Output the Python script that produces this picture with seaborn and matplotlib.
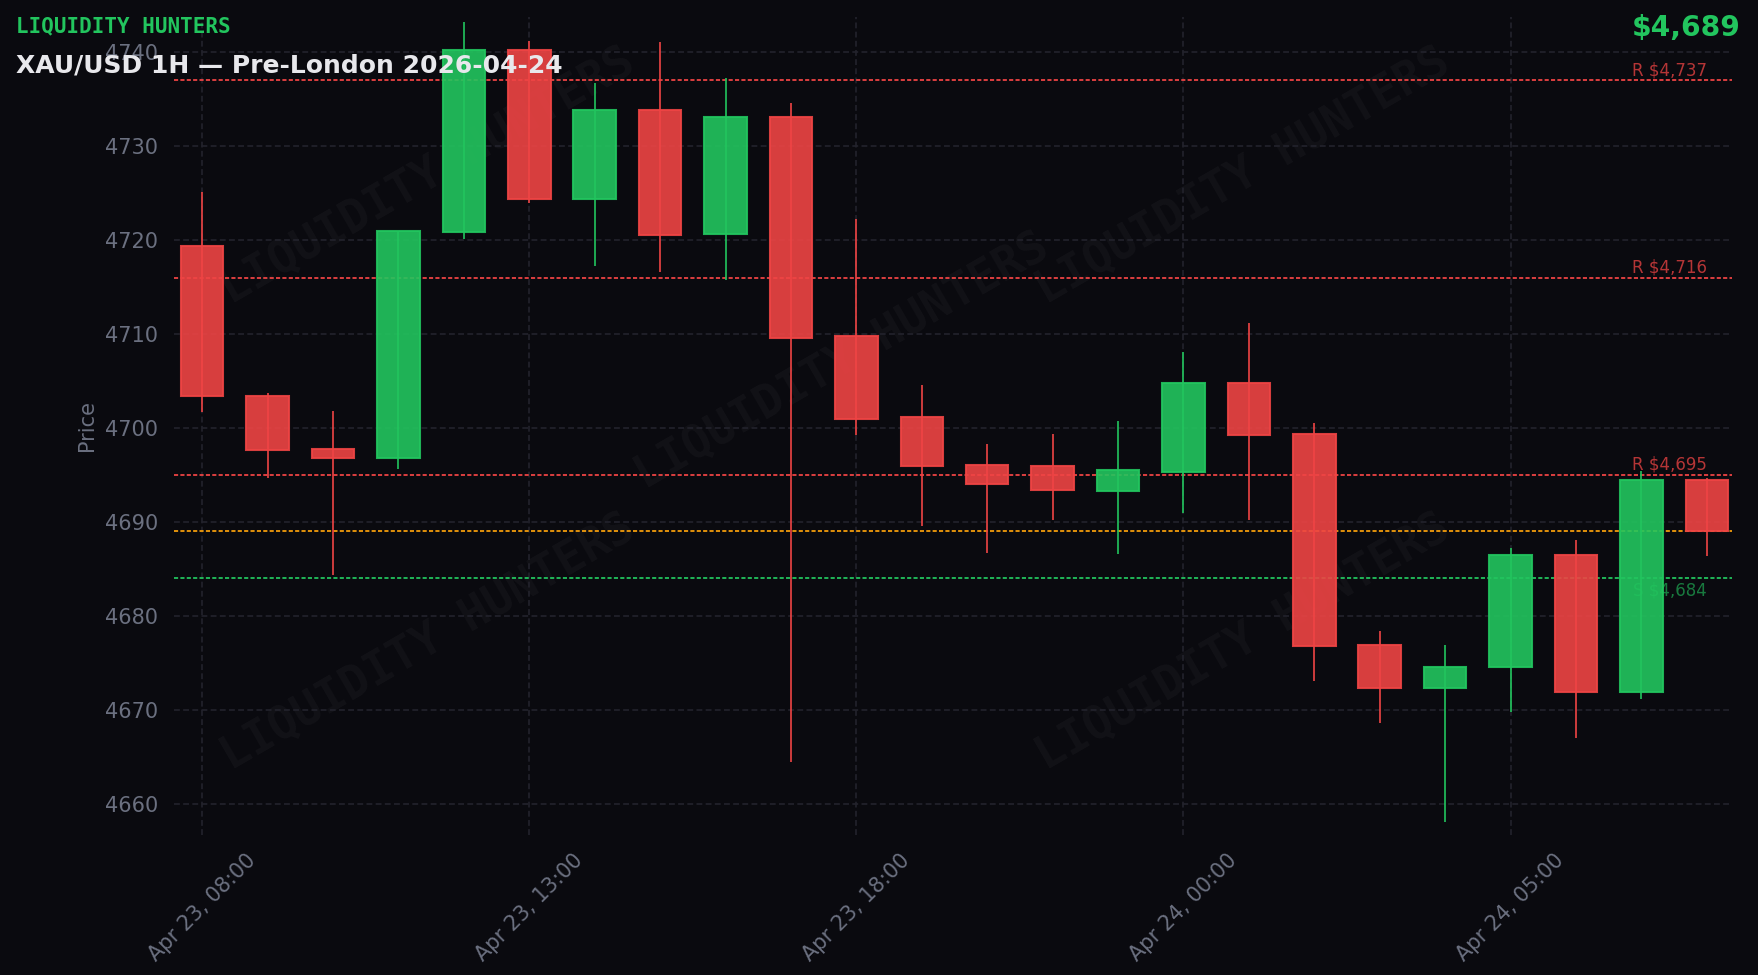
import numpy as np
import pandas as pd
import seaborn as sns
import matplotlib.pyplot as plt

# Hourly XAU/USD candles, Apr 23 08:00 -> Apr 24 08:00 (daily break hour has no candle)
opens = [4719.4, 4703.4, 4697.8, 4696.8, 4720.9, 4740.2, 4724.4, 4733.9, 4720.6, 4733.1, 4709.8, 4701.2,
         4696.1, 4695.9, 4693.3, 4695.3, 4704.8, 4699.4, 4676.9, 4672.3, 4674.5, 4686.5, 4671.9, 4694.5]
highs = [4725.1, 4703.7, 4701.8, 4721.0, 4743.2, 4741.2, 4736.7, 4741.1, 4737.3, 4734.6, 4722.2, 4704.6,
         4698.3, 4699.4, 4700.7, 4708.1, 4711.2, 4700.5, 4678.4, 4676.9, 4687.2, 4688.1, 4695.4, 4694.7]
lows = [4701.7, 4694.7, 4684.3, 4695.6, 4720.1, 4723.9, 4717.2, 4716.6, 4715.8, 4664.4, 4699.3, 4689.6,
        4686.7, 4690.2, 4686.6, 4690.9, 4690.2, 4673.1, 4668.6, 4658.0, 4669.8, 4667.0, 4671.1, 4686.4]
closes = [4703.4, 4697.7, 4696.8, 4721.0, 4740.2, 4724.4, 4733.8, 4720.5, 4733.1, 4709.6, 4700.9, 4696.0,
          4694.0, 4693.4, 4695.5, 4704.8, 4699.3, 4676.8, 4672.3, 4674.5, 4686.5, 4671.9, 4694.5, 4689.0]

resistance = [4737, 4716, 4695]
support = [4684]
last_price = 4689

times = pd.date_range("2026-04-23 08:00", "2026-04-24 08:00", freq="h")
times = times[times != pd.Timestamp("2026-04-23 21:00")]
df = pd.DataFrame({"time": times, "open": opens, "high": highs, "low": lows, "close": closes})
df["x"] = np.arange(len(df))
df["up"] = df["close"] >= df["open"]

bg = "#0a0a0f"
green = "#22c55e"
red = "#ef4444"
gray = "#6b7080"

sns.set_theme(style="dark", rc={
    "figure.facecolor": bg, "axes.facecolor": bg, "savefig.facecolor": bg,
    "axes.edgecolor": bg, "grid.color": "#23232c", "text.color": gray,
    "xtick.color": gray, "ytick.color": gray, "axes.labelcolor": gray,
})
plt.rcParams["font.family"] = ["DejaVu Sans"]

fig = plt.figure(figsize=(11.72, 6.5), dpi=150)
ax = fig.add_axes([0.099, 0.144, 0.886, 0.839])

# watermark
for fx, fy in [(0.163, 0.805), (0.429, 0.578), (0.686, 0.805), (0.163, 0.235), (0.686, 0.235)]:
    ax.text(fx, fy, "LIQUIDITY HUNTERS", transform=ax.transAxes, rotation=30, ha="center", va="center",
            fontsize=22, fontweight="bold", family="DejaVu Sans Mono", color="white", alpha=0.035, zorder=0)

# candles
for up, col in [(True, green), (False, red)]:
    d = df[df["up"] == up]
    ax.vlines(d["x"], d["low"], d["high"], color=col, lw=0.8, zorder=3)
    ax.bar(d["x"], (d["close"] - d["open"]).abs().clip(lower=0.3), bottom=d[["open", "close"]].min(axis=1),
           width=0.65, color=col, alpha=0.9, edgecolor=col, linewidth=1, zorder=4)

# key levels
for lv in resistance:
    ax.axhline(lv, color=red, lw=0.9, ls=(0, (2.2, 1.2)), alpha=0.95, zorder=2)
    ax.text(len(df) - 1, lv + 0.15, f"R ${lv:,}", color=red, alpha=0.75, fontsize=8, ha="right", va="bottom", zorder=5)
for lv in support:
    ax.axhline(lv, color=green, lw=0.9, ls=(0, (2.2, 1.2)), alpha=0.95, zorder=2)
    ax.text(len(df) - 1, lv - 0.3, f"S ${lv:,}", color=green, alpha=0.6, fontsize=8, ha="right", va="top", zorder=5)
ax.axhline(last_price, color="#f59e0b", lw=0.9, ls=(0, (2.2, 1.2)), alpha=0.95, zorder=2)

ticks = df["x"][::5]
ax.set_xticks(ticks)
ax.set_xticklabels(df["time"][::5].dt.strftime("%b %d, %H:%M"), rotation=45, ha="center", fontsize=10)
ax.set_yticks(np.arange(4660, 4741, 10))
ax.tick_params(axis="y", labelsize=10, length=4, width=1, colors=gray)
ax.tick_params(axis="x", length=4, width=1, colors=gray)
ax.set_xlim(-0.43, len(df) - 1 + 0.38)
ax.set_ylim(4656.7, 4743.8)
ax.grid(True, ls=(0, (3.5, 2)), lw=0.8, color="#23232c")
ax.set_ylabel("Price", fontsize=10, color=gray)
ax.set_xlabel("")
sns.despine(ax=ax, left=True, bottom=True)

fig.text(0.009, 0.973, "LIQUIDITY HUNTERS", family="DejaVu Sans Mono", fontweight="bold", fontsize=10,
         color=green, ha="left", va="center")
fig.text(0.009, 0.933, "XAU/USD 1H \u2014 Pre-London 2026-04-24", fontweight="bold", fontsize=12,
         color="#e8e8ec", ha="left", va="center", zorder=10)
fig.text(0.990, 0.971, f"${last_price:,}", fontweight="bold", fontsize=13.5, color=green, ha="right", va="center")

fig.savefig("out.png", dpi=150)
